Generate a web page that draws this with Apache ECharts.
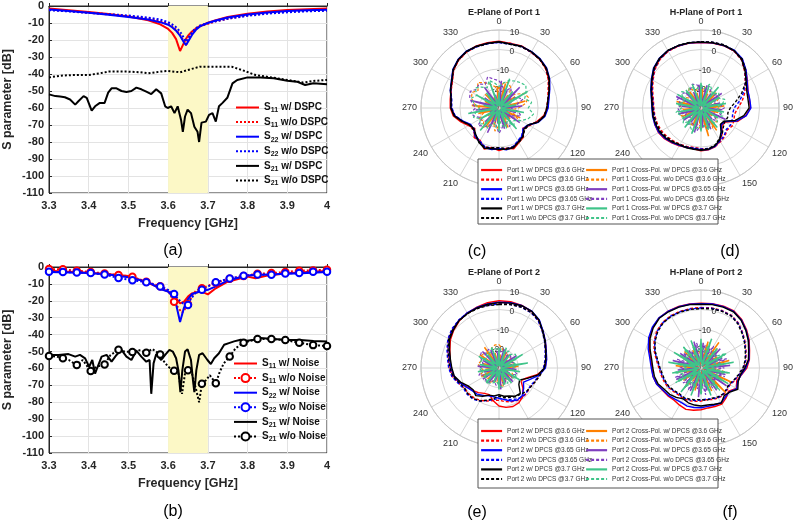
<!DOCTYPE html>
<html><head><meta charset="utf-8">
<script src="https://cdn.jsdelivr.net/npm/echarts@6/dist/echarts.min.js"></script>
<style>html,body{margin:0;padding:0;background:#fff}#c{width:793px;height:520px}</style>
</head><body><div id="c"></div>
<script>
// ---------- (a) S-parameters with / without DSPC ----------
const fA = [3.3,3.35,3.4,3.45,3.5,3.55,3.58,3.6,3.61,3.62,3.63,3.64,3.645,3.65,3.66,3.67,3.68,3.7,3.72,3.75,3.8,3.85,3.9,3.95,4.0];
const s11wA = [-1.5,-2.5,-3.5,-4.7,-6.2,-8.4,-10.8,-13.5,-15.8,-19.5,-26.5,-21.5,-19.3,-17.5,-15,-13.2,-11.8,-9.8,-8.3,-6.5,-4.5,-3.3,-2.4,-1.9,-1.5];
const s11oA = [-2.2,-3,-4,-5,-6,-7.5,-9,-10.5,-12,-14,-17,-21,-23,-20,-16,-13.5,-12,-10.5,-9,-7.5,-5.5,-4.2,-3.3,-2.8,-2.5];
const s22wA = [-2,-3,-4,-5.2,-6.5,-8,-9.5,-11,-12.5,-14.5,-17.5,-21.5,-23,-21,-17,-14,-12,-10,-8.5,-6.8,-5,-3.8,-3,-2.5,-2.2];
const s22oA = [-2.5,-3.2,-4,-4.8,-5.6,-6.8,-8,-9.5,-10.8,-12.5,-15,-19,-21,-19,-15.5,-13,-11.5,-10,-9,-7.5,-5.8,-4.5,-3.7,-3.1,-2.8];
const fS21wA = [3.3,3.316,3.328,3.34,3.353,3.366,3.374,3.387,3.395,3.4075,3.416,3.428,3.44,3.449,3.4575,3.47,3.4825,3.495,3.5075,3.52,3.5325,3.545,3.5575,3.57,3.5825,3.5925,3.599,3.6075,3.616,3.624,3.6325,3.637,3.6425,3.649,3.6575,3.666,3.674,3.678,3.684,3.695,3.703,3.7117,3.72,3.728,3.737,3.749,3.762,3.774,3.8,3.8325,3.866,3.9,3.924,3.945,3.966,4.0];
const s21wA = [-52,-53,-53.3,-53.7,-55,-58,-56,-53,-54,-61.5,-59,-57,-57,-51,-48.4,-48.4,-50,-50.6,-50,-48,-49,-50.4,-51.8,-49,-51.4,-59,-60,-59,-63,-59,-67,-74,-65,-61,-63,-71,-74,-80,-68.6,-68,-64,-63,-68,-59,-57,-54,-45.5,-43.5,-42,-42,-42.5,-44,-44.5,-46.5,-45.5,-46];
const fS21oA = [3.3,3.33,3.36,3.4,3.43,3.45,3.5,3.53,3.55,3.58,3.6,3.63,3.65,3.68,3.72,3.76,3.79,3.82,3.86,3.9,3.94,3.97,4.0];
const s21oA = [-42,-41,-40.6,-40.6,-39.5,-38.6,-38.6,-39,-39.6,-38.6,-38.2,-39,-37.6,-35.7,-35.7,-35.7,-38,-40.6,-42,-43.5,-45,-44,-43.5];

// ---------- (b) S-parameters with / without noise ----------
const fB = [3.3,3.35,3.4,3.45,3.5,3.55,3.58,3.6,3.61,3.62,3.63,3.64,3.65,3.66,3.68,3.69,3.7,3.72,3.75,3.8,3.82,3.85,3.9,3.95,4.0];
const s11wB = [-2.2,-2.8,-3.4,-4.3,-5.3,-9.3,-12.6,-14.6,-15.6,-18.5,-21.5,-20.5,-17.5,-15.6,-14.6,-15.2,-16.2,-12.6,-8.7,-5.7,-6.7,-5.1,-3.7,-3,-2.4];
const s22wB = [-3,-3.2,-3.5,-4.5,-6,-9,-13,-14.5,-17,-22,-32.5,-24,-19,-16,-14.5,-14,-13.5,-11.5,-8,-5,-4.8,-4.5,-4,-3.5,-3];
const fWoB = [3.3,3.335,3.37,3.405,3.44,3.475,3.51,3.545,3.58,3.6,3.615,3.625,3.635,3.645,3.65,3.66,3.67,3.685,3.72,3.755,3.79,3.825,3.86,3.895,3.93,3.965,4.0];
const s11oB = [-1.2,-1.4,-2.2,-3,-3.8,-4.8,-5.8,-8.7,-11.4,-14,-20.5,-24,-27,-24,-22,-17,-14,-12.6,-9.3,-7,-5.3,-4,-3.6,-3,-2.2,-2,-1.6];
const s22oB = [-2.8,-3,-3.2,-3.6,-4.5,-6.5,-7.8,-9,-11.5,-13.5,-16,-19,-21,-23,-22.5,-18,-15,-13.5,-9,-6.8,-5.2,-4.5,-4.6,-3.8,-3.6,-2.8,-2.8];
const fS21wB = [3.3,3.324,3.349,3.366,3.378,3.391,3.401,3.409,3.416,3.4225,3.4325,3.445,3.4575,3.47,3.4825,3.495,3.5075,3.52,3.5325,3.545,3.5533,3.5575,3.5633,3.57,3.5825,3.5925,3.6033,3.6117,3.62,3.6258,3.6308,3.6358,3.6425,3.649,3.6575,3.6625,3.666,3.671,3.678,3.6867,3.699,3.7075,3.716,3.728,3.741,3.753,3.766,3.7825,3.799,3.816,3.8325,3.866,3.9,3.9325,3.966,4.0];
const s21wB = [-52,-52,-51.5,-53,-52,-54,-59,-55,-63,-59,-53,-52,-56,-52,-49,-53,-55,-49.5,-53,-56,-55,-75,-57,-51.5,-55,-52,-49,-50,-54,-61,-74,-61,-50,-48.7,-55,-67,-74,-61,-52,-51,-55,-57.4,-54,-51,-46,-45,-44,-43,-43.6,-43,-42,-42.6,-43.2,-43.2,-43.8,-44];
const fS21oB = [3.3,3.32,3.335,3.35,3.37,3.385,3.405,3.42,3.44,3.455,3.475,3.49,3.51,3.525,3.545,3.56,3.58,3.59,3.6,3.615,3.625,3.635,3.643,3.65,3.66,3.67,3.678,3.685,3.695,3.705,3.72,3.73,3.74,3.755,3.77,3.79,3.81,3.825,3.86,3.895,3.93,3.965,4.0];
const s21oB = [-52.7,-53,-54,-55,-58,-55,-61.5,-59,-57.6,-52,-49,-50,-50.3,-49,-50.7,-48.5,-51.7,-56,-59,-61.3,-62,-75,-62,-61,-63,-72,-80,-69,-67,-64,-68.8,-62,-57,-53,-48,-44.8,-43.5,-42.6,-42.6,-43.2,-44.8,-46.2,-46.7];
const markerFreqs = [3.3,3.335,3.37,3.405,3.44,3.475,3.51,3.545,3.58,3.615,3.65,3.685,3.72,3.755,3.79,3.825,3.86,3.895,3.93,3.965,4.0];

// ---------- polar angles ----------
const ANG = [0,10,20,30,40,50,60,70,80,90,100,110,120,130,140,150,160,170,180,190,200,210,220,230,240,250,260,270,280,290,300,310,320,330,340,350,360];
const ANGH = [5,15,25,35,45,55,65,75,85,95,105,115,125,135,145,155,165,175,185,195,205,215,225,235,245,255,265,275,285,295,305,315,325,335,345,355,5];

// (c) E-plane port 1
const c_w36 = [4.2,3.6,3.9,3.1,2.5,1.4,-0.6,-2.9,-4.2,-5.0,-6.8,-9.5,-12,-14,-10.5,-9.5,-7.8,-9,-8.2,-9.4,-7.6,-10.8,-10.2,-13.8,-12,-9.2,-6.2,-5,-4.6,-3.8,-2.3,0.4,2.2,3.3,3.9,4,4.2];
const c_o36 = [3.9,3.7,3.5,3.0,2.6,1.2,-0.8,-3.2,-4.6,-5.6,-6.6,-9.2,-12.2,-13,-11.2,-10.2,-8.6,-8.8,-9,-9.2,-8.8,-10,-11.2,-12.6,-12.4,-9.8,-7,-5.6,-5.2,-3.9,-2.4,0.3,2.1,3.1,3.6,3.7,3.9];
const c_w365 = [3.8,3.4,3.6,3.4,2.9,1.9,0,-2.3,-4,-4.8,-6,-8.5,-12.5,-13.6,-11.5,-10.2,-8.6,-8.2,-9.2,-8.4,-8.4,-10,-11,-13,-13.2,-10.4,-6.9,-5.5,-5.2,-3.4,-1.8,0.9,2.6,3.6,3.6,3.6,3.8];
const c_o365 = [3.6,3.2,3.5,3.1,2.6,1.6,-0.4,-2.6,-4.3,-5.3,-6.2,-9,-12.8,-13.8,-11.8,-10.6,-9,-8.6,-9.4,-8.9,-8.9,-10.4,-11.4,-13.4,-12.9,-10.2,-7.2,-5.8,-5.4,-3.7,-2.1,0.6,2.4,3.3,3.4,3.5,3.6];
const c_w37 = [4,3.3,3.7,3.3,2.7,1.7,-0.2,-2.5,-4.5,-5.5,-6.3,-8.8,-12.7,-13.3,-11,-10,-8.3,-8.5,-8.8,-8.8,-8,-9.5,-11.7,-13.3,-12.7,-10,-6.7,-5.3,-5,-3.5,-2,0.7,2.5,3.5,3.7,3.7,4];
const c_o37 = [3.8,3.1,3.4,3.2,2.5,1.5,-0.4,-2.7,-4.4,-5.4,-6.5,-8.9,-12.4,-12.8,-10.8,-9.6,-8.8,-8.9,-9.6,-9.3,-8.5,-9.8,-11.4,-12.9,-12.5,-9.9,-6.8,-5.4,-5.1,-3.6,-2.1,0.5,2.3,3.3,3.5,3.5,3.8];
const xc_w36 = [-27,-17,-29,-22,-28,-20,-29,-16,-28,-24,-29,-18,-27,-22,-29,-19,-28,-25,-29,-21,-28,-18,-29,-23,-27,-19,-29,-16,-28,-22,-29,-20,-27,-24,-29,-19,-27];
const xc_o36 = [-20,-17,-16,-18,-22,-19,-15,-14,-16,-20,-24,-22,-19,-23,-26,-22,-20,-24,-21,-18,-22,-19,-17,-20,-18,-21,-24,-20,-17,-15,-14,-16,-13,-15,-17,-19,-20];
const xc_w365 = [-16,-28,-20,-29,-15,-27,-23,-29,-18,-28,-21,-29,-17,-28,-24,-29,-19,-27,-22,-29,-16,-28,-20,-29,-25,-28,-18,-29,-15,-27,-21,-29,-17,-28,-23,-29,-16];
const xc_o365 = [-16,-19,-21,-18,-20,-23,-19,-17,-21,-24,-20,-18,-22,-25,-21,-19,-23,-20,-17,-21,-24,-19,-18,-16,-20,-17,-15,-18,-16,-14,-13,-15,-14,-16,-13,-15,-16];
const xc_w37 = [-22,-29,-14,-28,-19,-29,-13,-27,-21,-29,-17,-28,-24,-29,-16,-27,-20,-29,-18,-28,-23,-29,-15,-27,-19,-29,-14,-28,-22,-29,-17,-27,-20,-29,-16,-28,-22];
const xc_o37 = [-19,-17,-15,-14,-13,-12,-14,-16,-13,-15,-12,-14,-17,-20,-18,-22,-19,-21,-24,-20,-22,-18,-20,-17,-19,-16,-18,-20,-17,-15,-17,-14,-16,-18,-15,-17,-19];

// (d) H-plane port 1
const d_w36 = [3.6,3.8,4,3.8,2.8,0,-2.5,-4.4,-4.8,-4.6,-6.8,-10,-15.5,-16,-13,-10.5,-8.8,-8.2,-8,-8.8,-8.6,-7.6,-6.6,-5.5,-4.8,-4.8,-5.2,-5.4,-4.8,-3.2,-1.2,1.2,2.9,3.8,3.9,3.8,3.6];
const d_o36 = [3.8,4.1,4.3,3.8,2.2,-0.8,-3.8,-6,-8.5,-11,-12.5,-12,-11.5,-12.5,-11,-10,-9,-8.8,-9.2,-9.4,-9,-8.5,-8,-7.2,-6.6,-6.2,-6,-5.8,-5.2,-3.6,-1.6,0.8,2.6,3.6,3.8,3.9,3.8];
const d_w365 = [3.7,3.9,4.1,4.2,3,0.2,-2.7,-4.4,-4.6,-4.4,-6.5,-10.5,-16,-16.5,-13.5,-10.8,-9,-8.3,-8.6,-8.9,-8.4,-7.9,-6.9,-5.8,-5,-4.9,-4.8,-4.8,-4.2,-2.6,-0.6,1.8,3.3,4,4,3.9,3.7];
const d_o365 = [3.9,4.2,4.4,3.9,2.5,-0.4,-3.6,-6.8,-10,-13,-13.5,-13,-12.5,-13,-11.5,-10.4,-9.2,-8.9,-9,-9.1,-8.8,-8.2,-7.4,-6.4,-5.8,-5.6,-5.7,-5.6,-4.9,-3.3,-1.3,1.1,2.8,3.8,4,4,3.9];
const d_w37 = [3.8,4,4.2,4,2.5,-0.5,-3.2,-5,-5.5,-5.3,-7.7,-11.3,-16.5,-17,-14,-11,-9.3,-8.5,-8.3,-8.5,-8.3,-8.2,-7.2,-6.2,-5.5,-5.3,-5,-5,-4.3,-2.8,-0.8,1.6,3.2,4.1,4.1,4,3.8];
const d_o37 = [4,4.3,4.5,4,2.8,0,-3.5,-7.8,-12,-15,-16,-15.5,-16,-15,-13,-11.5,-9.6,-8.8,-8.6,-8.8,-8.6,-8.3,-7.6,-6.8,-6,-5.8,-5.5,-5.3,-4.6,-3,-1,1.4,3,4,4.1,4.1,4];
const xd_w36 = [-20,-28,-22,-29,-19,-27,-24,-29,-18,-28,-21,-29,-23,-28,-16,-29,-15,-27,-22,-29,-20,-28,-24,-29,-19,-28,-21,-29,-17,-27,-23,-29,-20,-28,-22,-29,-20];
const xd_o36 = [-21,-19,-22,-20,-23,-21,-19,-22,-24,-21,-20,-23,-22,-19,-21,-18,-20,-22,-19,-21,-23,-20,-22,-24,-21,-19,-22,-20,-18,-21,-19,-22,-20,-18,-21,-20,-21];
const xd_w365 = [-28,-18,-29,-21,-27,-17,-29,-20,-28,-19,-29,-16,-28,-22,-29,-18,-27,-20,-29,-17,-28,-21,-29,-19,-27,-18,-29,-20,-28,-16,-29,-19,-27,-21,-29,-18,-28];
const xd_o365 = [-19,-21,-18,-20,-22,-19,-21,-23,-20,-18,-21,-19,-22,-20,-23,-21,-19,-20,-22,-18,-20,-21,-19,-23,-20,-22,-19,-18,-20,-17,-19,-18,-20,-19,-17,-18,-19];
const xd_w37 = [-17,-29,-18,-28,-16,-29,-19,-27,-17,-29,-18,-28,-20,-29,-17,-27,-19,-29,-18,-28,-16,-29,-17,-27,-19,-29,-18,-28,-17,-29,-16,-27,-18,-29,-17,-28,-17];
const xd_o37 = [-18,-20,-17,-19,-21,-18,-20,-17,-19,-22,-20,-18,-21,-19,-20,-22,-18,-21,-19,-20,-17,-19,-21,-18,-20,-19,-17,-20,-18,-21,-19,-17,-20,-18,-19,-20,-18];

// (e) E-plane port 2
const e_w36 = [4.5,4.5,4.2,3.5,1.8,-0.6,-2.6,-4.2,-5.3,-6.3,-10.2,-15,-17,-14,-11,-9.5,-9,-9.5,-10.5,-13,-15.5,-15,-13.5,-12.2,-10.8,-8.4,-6.2,-5.3,-4.5,-3.2,-1.2,0.3,1.6,2.5,3.2,4,4.5];
const e_o36 = [3,3.3,3.4,3,1.6,-0.8,-2.8,-4.6,-5.8,-7,-8.8,-10.2,-11.2,-11,-10.5,-10.8,-11.5,-12.5,-13.5,-13,-12,-10.8,-10,-9.6,-9.4,-7.8,-5.6,-4.4,-3.5,-2,0,1.2,2,2.5,2.7,2.9,3];
const e_w365 = [3.8,4,4.1,3.7,2.2,-0.5,-2.5,-4.2,-5.2,-6.2,-9,-13,-15.5,-13.5,-11.5,-11,-12,-13.5,-14.5,-15,-14.8,-13.8,-12.5,-12,-10.6,-8.4,-6.5,-5.4,-4.3,-2.7,-0.5,0.8,2,2.6,3,3.4,3.8];
const e_o365 = [2.8,3.1,3.2,2.8,1.4,-1,-3,-4.8,-6,-7.2,-9,-10.5,-11.5,-11.2,-11,-11.6,-12.8,-13.6,-14.4,-13.5,-12.2,-10.4,-9.2,-8.8,-9,-7.6,-5.4,-4.2,-3.2,-1.6,0.2,1.4,2.1,2.6,2.8,2.8,2.8];
const e_w37 = [3.5,3.8,4,3.6,2,-0.8,-2.8,-4.5,-5.7,-6.7,-9.7,-14.5,-17.8,-16.7,-13,-13.3,-14.7,-15.3,-16.3,-15.5,-15.2,-13.3,-11.5,-12.7,-11.7,-9,-6.7,-5.8,-4.7,-3,-0.7,0.5,1.8,2.3,2.8,3.2,3.5];
const e_o37 = [2.6,3,3.3,3,1.8,-0.6,-2.6,-4.4,-5.6,-6.8,-8.6,-10,-11,-11.5,-12.5,-13,-14,-14.5,-15.5,-14,-12.5,-10.5,-9.5,-9.2,-9.6,-8.2,-6,-4.8,-3.8,-2.2,-0.2,1,1.8,2.2,2.4,2.5,2.6];
const xe_w36 = [-23,-28,-21,-29,-24,-27,-22,-29,-20,-28,-25,-29,-22,-27,-24,-29,-21,-28,-23,-29,-25,-27,-22,-29,-20,-28,-23,-29,-21,-27,-18,-29,-17,-28,-22,-29,-23];
const xe_o36 = [-18,-20,-22,-21,-23,-22,-24,-23,-21,-22,-24,-23,-21,-22,-24,-23,-22,-20,-23,-22,-24,-21,-23,-22,-21,-20,-22,-21,-19,-20,-21,-19,-20,-22,-19,-18,-18];
const xe_w365 = [-28,-20,-29,-22,-27,-19,-29,-23,-28,-21,-29,-24,-27,-20,-29,-22,-28,-19,-29,-23,-27,-21,-29,-20,-28,-22,-29,-19,-27,-21,-29,-18,-28,-20,-29,-22,-28];
const xe_o365 = [-21,-22,-20,-23,-21,-22,-24,-22,-21,-23,-22,-20,-23,-21,-22,-24,-21,-23,-22,-21,-23,-22,-20,-21,-23,-19,-21,-20,-22,-21,-19,-18,-20,-19,-21,-22,-21];
const xe_w37 = [-20,-29,-19,-28,-21,-29,-16,-27,-15,-29,-19,-28,-17,-29,-20,-27,-21,-29,-19,-28,-22,-29,-20,-27,-21,-29,-19,-28,-20,-29,-18,-27,-21,-29,-19,-28,-20];
const xe_o37 = [-20,-21,-22,-20,-21,-19,-20,-22,-21,-23,-22,-21,-20,-22,-23,-21,-22,-20,-21,-23,-22,-21,-20,-22,-21,-23,-20,-21,-22,-20,-21,-22,-20,-21,-19,-20,-20];

// (f) H-plane port 2
const f_w36 = [3.2,3.5,3.8,3.8,2.5,0.5,-1.5,-3.5,-4.8,-6.5,-9,-10.5,-9,-11.5,-10,-8.6,-9,-9.2,-8.6,-8,-7.4,-8,-8.5,-7.8,-7.2,-5.8,-5,-4.8,-3.8,-1.8,0.5,2.3,3.5,3.7,3.6,3.4,3.2];
const f_o36 = [1,1.3,1.4,1.2,0,-2,-3.8,-5.4,-6.6,-8,-10,-11.5,-12.8,-12.5,-12,-12.2,-12.8,-13.5,-13,-12.6,-12.2,-11.8,-12,-11.4,-10.4,-9.8,-9.2,-8.4,-6.8,-4.4,-2.2,-0.4,0.6,1,1,1,1];
const f_w365 = [3,3.3,3.5,3.5,2.2,0.2,-1.8,-3.8,-5,-7,-9.2,-10,-8.8,-11,-10.6,-9.4,-9.8,-10,-9.6,-9.4,-9.2,-9.6,-9.2,-8.2,-7.4,-5.8,-5,-4.5,-3.4,-1.2,1,2.6,3.6,3.6,3.4,3.2,3];
const f_o365 = [0.8,1.1,1.2,1,-0.2,-2.2,-4,-5.6,-6.8,-8.2,-10.2,-11.8,-13,-12.8,-12.4,-12.5,-13.2,-13.8,-13.5,-13,-12.6,-12.2,-12.4,-11.8,-10.8,-10.2,-9.6,-8.8,-7.2,-4.8,-2.6,-0.7,0.4,0.8,0.8,0.8,0.8];
const f_w37 = [2.7,3,3.2,3.3,2,0,-2,-4,-5.3,-7.5,-9.5,-9.7,-8.2,-10.8,-11.5,-9.2,-10.2,-10.7,-10.5,-10.7,-11,-11.7,-10.3,-9,-8.2,-6.5,-5.7,-5.3,-4.3,-2.2,0.2,2,3.3,3.3,3.2,3,2.7];
const f_o37 = [0.5,0.8,1,0.8,-0.5,-2.5,-4.2,-5.8,-7,-8.5,-10.5,-12,-13.5,-13,-12.5,-12.8,-13.5,-13.2,-13.8,-13.4,-13,-12.5,-12.8,-12,-11,-10.5,-10,-9,-7.5,-5,-2.8,-1,0.2,0.6,0.6,0.5,0.5];
const xf_w36 = [-27,-16,-28,-14,-29,-20,-27,-15,-28,-22,-29,-13,-27,-12,-28,-17,-29,-21,-27,-18,-28,-23,-29,-19,-27,-21,-28,-17,-29,-22,-27,-18,-28,-20,-29,-24,-27];
const xf_o36 = [-19,-24,-18,-25,-17,-23,-20,-26,-18,-24,-16,-25,-19,-23,-17,-26,-20,-24,-18,-25,-19,-23,-17,-24,-20,-26,-18,-23,-19,-25,-17,-24,-20,-26,-18,-23,-19];
const xf_w365 = [-17,-28,-19,-29,-16,-27,-18,-28,-15,-29,-17,-27,-14,-28,-16,-29,-18,-27,-15,-28,-17,-29,-19,-27,-16,-28,-18,-29,-15,-27,-17,-28,-19,-29,-16,-27,-17];
const xf_o365 = [-23,-18,-25,-17,-24,-19,-26,-16,-23,-18,-25,-17,-24,-20,-23,-18,-26,-16,-24,-19,-25,-17,-23,-18,-24,-16,-25,-19,-23,-17,-26,-18,-24,-20,-25,-17,-23];
const xf_w37 = [-15,-28,-14,-29,-17,-27,-16,-28,-13,-29,-15,-27,-14,-28,-16,-29,-15,-27,-17,-28,-15,-29,-14,-27,-16,-28,-15,-29,-13,-27,-14,-28,-16,-29,-15,-27,-15];
const xf_o37 = [-17,-22,-16,-24,-18,-21,-15,-23,-17,-25,-16,-22,-18,-24,-15,-21,-17,-23,-16,-25,-18,-22,-17,-24,-15,-21,-16,-23,-18,-25,-17,-22,-16,-24,-18,-21,-17];

// ---------- build ----------
const FONT = "'Liberation Sans', Arial, sans-serif";
const RED = '#ff0000', BLUE = '#0000ff', BLACK = '#000000', ORANGE = '#ff8000', PURPLE = '#7f3fbf', GREEN = '#3fc489';
const pairs = (xs, ys) => xs.map((x, i) => [x, ys[i]]);

function cart(name, idx, xs, ys, color, dotted) {
  return {type:'line', name, xAxisIndex:idx, yAxisIndex:idx, data:pairs(xs, ys), symbol:'none',
    lineStyle:{color, width:2, type: dotted ? [2,2] : 'solid'}, itemStyle:{color}, z:3};
}
function cartMk(name, idx, xs, ys, color) {
  const data = xs.map((x, i) => {
    const isM = markerFreqs.some(m => Math.abs(m - x) < 1e-6);
    return isM ? {value:[x, ys[i]]} : {value:[x, ys[i]], symbol:'none'};
  });
  return {type:'line', name, xAxisIndex:idx, yAxisIndex:idx, data, symbol:'emptyCircle', symbolSize:6.5,
    lineStyle:{color, width:2, type:[2,2]}, itemStyle:{color, borderWidth:1.6}, z:3};
}
function pol(name, pIdx, angs, vals, color, dashed, width) {
  return {type:'line', name, coordinateSystem:'polar', polarIndex:pIdx,
    data: vals.map((v, i) => [v, angs[i]]), symbol:'none',
    lineStyle:{color, width, type: dashed ? [3,2] : 'solid'}, itemStyle:{color}, z:2};
}
function namesFor(p) {
  return {
    co: [`Port ${p} w/ DPCS @3.6 GHz`,`Port ${p} w/o DPCS @3.6 GHz`,`Port ${p} w/ DPCS @3.65 GHz`,`Port ${p} w/o DPCS @3.65 GHz`,`Port ${p} w/ DPCS @3.7 GHz`,`Port ${p} w/o DPCS @3.7 GHz`],
    x: [`Port ${p} Cross-Pol. w/ DPCS @3.6 GHz`,`Port ${p} Cross-Pol. w/o DPCS @3.6 GHz`,`Port ${p} Cross-Pol. w/ DPCS @3.65 GHz`,`Port ${p} Cross-Pol. w/o DPCS @3.65 GHz`,`Port ${p} Cross-Pol. w/ DPCS @3.7 GHz`,`Port ${p} Cross-Pol. w/o DPCS @3.7 GHz`]
  };
}
function polarSet(p, pIdx, co, xs) {
  const n = namesFor(p);
  const coCol = [RED, RED, BLUE, BLUE, BLACK, BLACK];
  const xCol = [ORANGE, ORANGE, PURPLE, PURPLE, GREEN, GREEN];
  const out = [];
  co.forEach((arr, i) => out.push(pol(n.co[i], pIdx, ANG, arr, coCol[i], i % 2 === 1, 1.4)));
  xs.forEach((arr, i) => out.push(pol(n.x[i], pIdx, i % 2 === 1 ? ANG : (i === 4 ? ANG : ANGH), arr, xCol[i], i % 2 === 1, i % 2 === 1 ? 1.2 : 1.5)));
  return out;
}

const series = [
  {type:'line', xAxisIndex:0, yAxisIndex:0, data:[], silent:true, z:1,
    markArea:{silent:true, itemStyle:{color:'#fcf8c6'}, data:[[{xAxis:3.6},{xAxis:3.7}]]}},
  {type:'line', xAxisIndex:1, yAxisIndex:1, data:[], silent:true, z:1,
    markArea:{silent:true, itemStyle:{color:'#fcf8c6'}, data:[[{xAxis:3.6},{xAxis:3.7}]]}},
  cart('S11 w/ DSPC', 0, fA, s11wA, RED, false),
  cart('S11 w/o DSPC', 0, fA, s11oA, RED, true),
  cart('S22 w/ DSPC', 0, fA, s22wA, BLUE, false),
  cart('S22 w/o DSPC', 0, fA, s22oA, BLUE, true),
  cart('S21 w/ DSPC', 0, fS21wA, s21wA, BLACK, false),
  cart('S21 w/o DSPC', 0, fS21oA, s21oA, BLACK, true),
  cart('S11 w/ Noise', 1, fB, s11wB, RED, false),
  cartMk('S11 w/o Noise', 1, fWoB, s11oB, RED),
  cart('S22 w/ Noise', 1, fB, s22wB, BLUE, false),
  cartMk('S22 w/o Noise', 1, fWoB, s22oB, BLUE),
  cart('S21 w/ Noise', 1, fS21wB, s21wB, BLACK, false),
  cartMk('S21 w/o Noise', 1, fS21oB, s21oB, BLACK),
  ...polarSet(1, 0, [c_w36,c_o36,c_w365,c_o365,c_w37,c_o37], [xc_w36,xc_o36,xc_w365,xc_o365,xc_w37,xc_o37]),
  ...polarSet(1, 1, [d_w36,d_o36,d_w365,d_o365,d_w37,d_o37], [xd_w36,xd_o36,xd_w365,xd_o365,xd_w37,xd_o37]),
  ...polarSet(2, 2, [e_w36,e_o36,e_w365,e_o365,e_w37,e_o37], [xe_w36,xe_o36,xe_w365,xe_o365,xe_w37,xe_o37]),
  ...polarSet(2, 3, [f_w36,f_o36,f_w365,f_o365,f_w37,f_o37], [xf_w36,xf_o36,xf_w365,xf_o365,xf_w37,xf_o37])
];

const AX = '#262626';
function xAx(i) {
  return {type:'value', gridIndex:i, min:3.3, max:4, interval:0.1,
    name:'Frequency [GHz]', nameLocation:'middle', nameGap:24,
    nameTextStyle:{fontFamily:FONT, fontWeight:'bold', fontSize:12.5, color:AX},
    axisLine:{lineStyle:{color:AX}}, axisTick:{inside:true, length:3, lineStyle:{color:AX}},
    axisLabel:{fontFamily:FONT, fontWeight:'bold', fontSize:11, color:AX, margin:7,
      formatter: v => String(Math.round(v * 10) / 10)},
    splitLine:{show:true, lineStyle:{color:'#e3e3e3'}}};
}
function yAx(i) {
  return {type:'value', gridIndex:i, min:-110, max:0, interval:10,
    name:'S parameter [dB]', nameLocation:'middle', nameGap:35,
    nameTextStyle:{fontFamily:FONT, fontWeight:'bold', fontSize:12.5, color:AX},
    axisLine:{show:true, lineStyle:{color:AX}}, axisTick:{show:true, inside:true, length:3, lineStyle:{color:AX}},
    axisLabel:{fontFamily:FONT, fontWeight:'bold', fontSize:11, color:AX, margin:5},
    splitLine:{show:true, lineStyle:{color:'#e3e3e3'}}};
}
const centers = [[499,108],[701,108],[499,368],[701,368]];
const R = 78;
const polar = centers.map(c => ({center:c, radius:R})).concat(centers.map(c => ({center:c, radius:R})));
const angleAxis = [0,1,2,3].map(i => ({polarIndex:i, type:'value', min:0, max:360, interval:30, startAngle:90, clockwise:true,
  axisLine:{lineStyle:{color:'#c8c8c8'}}, axisTick:{show:false},
  splitLine:{show:true, lineStyle:{color:'#d4d4d4'}},
  axisLabel:{fontFamily:FONT, fontSize:9, color:'#333', margin:4, formatter: v => v === 360 ? '' : String(v)}}))
 .concat([4,5,6,7].map(i => ({polarIndex:i, type:'value', min:0, max:360, startAngle:75, show:false})));
const radiusAxis = [0,1,2,3].map(i => ({polarIndex:i, type:'value', min:-30, max:10, interval:10,
  axisLine:{show:false}, axisTick:{show:false}, axisLabel:{show:false},
  splitLine:{show:true, lineStyle:{color:'#d4d4d4'}}}))
 .concat([4,5,6,7].map(i => ({polarIndex:i, type:'value', min:-30, max:10, interval:10,
  axisLine:{show:false}, axisTick:{show:false}, splitLine:{show:false},
  axisLabel:{fontFamily:FONT, fontSize:8.5, color:'#333', margin:0, showMinLabel:true}})));

const subFmt = name => name.replace(/^S(\d+)(.*)$/, '{n|S}{s|$1}{n|$2}');
const richTxt = {fontFamily:FONT, color:'#111', rich:{
    n:{fontFamily:FONT, fontWeight:'bold', fontSize:10, color:'#111', lineHeight:12},
    s:{fontFamily:FONT, fontWeight:'bold', fontSize:7, color:'#111', lineHeight:6, padding:[6,0,0,0]}}};
const hide = {opacity:0};
const cartLegend = (items, left, top) => ({orient:'vertical', left, top, padding:0, data:items, itemWidth:23, itemHeight:10, itemGap:1.6,
  formatter: subFmt, textStyle:richTxt});
const polLegend = (names, left, top) => ({orient:'vertical', left, top, padding:0, data:names.map(n => ({name:n, itemStyle:hide})),
  itemWidth:21, itemHeight:6, itemGap:1.6, z:10,
  lineStyle:{width:2.2}, textStyle:{fontFamily:FONT, fontSize:6.5, color:'#333', lineHeight:8}});
const n1 = namesFor(1), n2 = namesFor(2);

const option = {
  animation:false,
  backgroundColor:'#fff',
  title:[
    {text:'E-Plane of Port 1', left:499, top:3, textAlign:'center', textStyle:{fontFamily:FONT, fontSize:9, fontWeight:'bold', color:'#222'}},
    {text:'H-Plane of Port 1', left:701, top:3, textAlign:'center', textStyle:{fontFamily:FONT, fontSize:9, fontWeight:'bold', color:'#222'}},
    {text:'E-Plane of Port 2', left:499, top:263, textAlign:'center', textStyle:{fontFamily:FONT, fontSize:9, fontWeight:'bold', color:'#222'}},
    {text:'H-Plane of Port 2', left:701, top:263, textAlign:'center', textStyle:{fontFamily:FONT, fontSize:9, fontWeight:'bold', color:'#222'}},
    {text:'(a)', left:168, top:238, textAlign:'center', textStyle:{fontFamily:FONT, fontSize:16, fontWeight:'normal', color:'#000'}},
    {text:'(b)', left:168, top:499, textAlign:'center', textStyle:{fontFamily:FONT, fontSize:16, fontWeight:'normal', color:'#000'}},
    {text:'(c)', left:472, top:239, textAlign:'center', textStyle:{fontFamily:FONT, fontSize:16, fontWeight:'normal', color:'#000'}},
    {text:'(d)', left:725, top:239, textAlign:'center', textStyle:{fontFamily:FONT, fontSize:16, fontWeight:'normal', color:'#000'}},
    {text:'(e)', left:472, top:500, textAlign:'center', textStyle:{fontFamily:FONT, fontSize:16, fontWeight:'normal', color:'#000'}},
    {text:'(f)', left:725, top:500, textAlign:'center', textStyle:{fontFamily:FONT, fontSize:16, fontWeight:'normal', color:'#000'}}
  ],
  grid:[
    {left:47, top:6, width:280, height:187, show:true, borderColor:AX, borderWidth:1, backgroundColor:'transparent'},
    {left:47, top:267, width:280, height:186, show:true, borderColor:AX, borderWidth:1, backgroundColor:'transparent'}
  ],
  xAxis:[xAx(0), xAx(1)],
  yAxis:[yAx(0), yAx(1)],
  polar, angleAxis, radiusAxis,
  legend:[
    cartLegend(['S11 w/ DSPC','S11 w/o DSPC','S22 w/ DSPC','S22 w/o DSPC','S21 w/ DSPC','S21 w/o DSPC'].map(n => ({name:n, itemStyle:hide})), 235, 101),
    cartLegend([{name:'S11 w/ Noise', itemStyle:hide},{name:'S11 w/o Noise'},{name:'S22 w/ Noise', itemStyle:hide},{name:'S22 w/o Noise'},{name:'S21 w/ Noise', itemStyle:hide},{name:'S21 w/o Noise'}], 233, 357),
    polLegend(n1.co, 480, 166), polLegend(n1.x, 585, 166),
    polLegend(n2.co, 480, 427), polLegend(n2.x, 585, 427)
  ],
  graphic:[
    {type:'rect', z:5, shape:{x:478, y:159, width:240, height:65}, style:{fill:'#fff', stroke:'#555', lineWidth:1}},
    {type:'rect', z:5, shape:{x:478, y:419, width:240, height:69}, style:{fill:'#fff', stroke:'#555', lineWidth:1}}
  ],
  series
};
const chart = echarts.init(document.getElementById('c'), null, {renderer:'canvas'});
chart.setOption(option);
</script></body></html>
